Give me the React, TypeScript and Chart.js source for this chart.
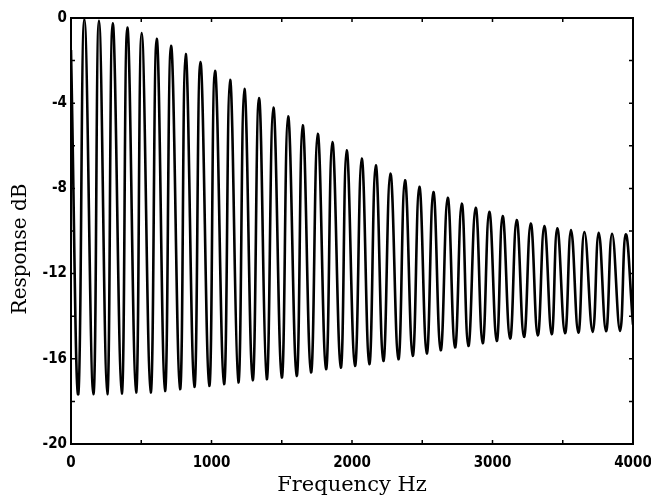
import React, { useEffect, useRef } from "react";
import { Chart, registerables } from "chart.js";

Chart.register(...registerables);

// Frequencies (Hz) and levels (dB)
const peakHz = [95, 199, 297, 401, 503, 610, 712, 816, 921, 1025, 1132, 1234, 1338, 1440, 1545, 1649, 1756, 1860, 1962, 2069, 2169, 2273, 2377, 2479, 2579, 2681, 2781, 2880, 2977, 3072, 3172, 3272, 3369, 3461, 3559, 3654, 3756, 3851, 3948];
const peakDb = [-0.06, -0.13, -0.25, -0.45, -0.71, -0.98, -1.31, -1.69, -2.07, -2.48, -2.9, -3.33, -3.76, -4.2, -4.62, -5.04, -5.44, -5.82, -6.21, -6.6, -6.92, -7.3, -7.62, -7.92, -8.17, -8.44, -8.71, -8.91, -9.1, -9.3, -9.49, -9.65, -9.77, -9.87, -9.96, -10.05, -10.08, -10.13, -10.16];
const troughHz = [52, 159, 258, 361, 463, 567, 669, 776, 878, 984, 1089, 1191, 1293, 1393, 1500, 1606, 1708, 1815, 1920, 2021, 2123, 2223, 2330, 2432, 2532, 2631, 2733, 2828, 2930, 3030, 3125, 3224, 3322, 3421, 3516, 3611, 3713, 3808, 3908];
const troughDb = [-17.66, -17.66, -17.66, -17.63, -17.58, -17.58, -17.51, -17.43, -17.32, -17.27, -17.19, -17.11, -17.0, -16.96, -16.88, -16.8, -16.64, -16.49, -16.41, -16.33, -16.25, -16.1, -16.02, -15.86, -15.75, -15.6, -15.47, -15.4, -15.27, -15.16, -15.05, -14.97, -14.9, -14.85, -14.8, -14.77, -14.74, -14.71, -14.69];
const edgeHz = [0, 4000];
const edgeDb = [-1.5, -14.4];

const xMajorLabels = [0, 1000, 2000, 3000, 4000];
const yMajorLabels = [0, -4, -8, -12, -16, -20];
const yTitle = "Response dB";
const xTitle = "Frequency Hz";

const TICK_FONT = { family: "'Liberation Sans Narrow', 'DejaVu Sans Condensed', 'Liberation Sans', Arial, sans-serif", size: 15, weight: "bold" as const };
const TITLE_FAMILY = "'DejaVu Serif', 'Liberation Serif', serif";

const framePlugin = {
  id: "frameTicks",
  afterDatasetsDraw(chart: any) {
    const { ctx, chartArea } = chart;
    const { left, right, top, bottom } = chartArea;
    const xs = chart.scales.x;
    const ys = chart.scales.y;
    ctx.save();
    ctx.strokeStyle = "#000";
    ctx.lineWidth = 2;
    ctx.strokeRect(left, top, right - left, bottom - top);
    ctx.lineWidth = 1.5;
    const len = 4;
    ctx.beginPath();
    xs.ticks.forEach((t: any) => {
      const px = xs.getPixelForValue(t.value);
      ctx.moveTo(px, bottom);
      ctx.lineTo(px, bottom - len);
      ctx.moveTo(px, top);
      ctx.lineTo(px, top + len);
    });
    ys.ticks.forEach((t: any) => {
      const py = ys.getPixelForValue(t.value);
      ctx.moveTo(left, py);
      ctx.lineTo(left + len, py);
      ctx.moveTo(right, py);
      ctx.lineTo(right - len, py);
    });
    ctx.stroke();
    // rotated y-axis title
    ctx.translate(21, (top + bottom) / 2 + 18);
    ctx.rotate(-Math.PI / 2);
    ctx.fillStyle = "#000";
    ctx.font = `20px ${TITLE_FAMILY}`;
    ctx.textAlign = "center";
    ctx.textBaseline = "middle";
    ctx.fillText(yTitle, 0, 0);
    ctx.restore();
  },
};

export default function App() {
  const ref = useRef<HTMLCanvasElement | null>(null);

  useEffect(() => {
    if (!ref.current) return;
    const pts: { x: number; y: number }[] = [{ x: edgeHz[0], y: edgeDb[0] }];
    for (let i = 0; i < peakHz.length; i++) {
      pts.push({ x: troughHz[i], y: troughDb[i] });
      pts.push({ x: peakHz[i], y: peakDb[i] });
    }
    pts.push({ x: edgeHz[1], y: edgeDb[1] });

    const chart = new Chart(ref.current, {
      type: "line",
      data: {
        datasets: [
          {
            data: pts,
            borderColor: "#000",
            borderWidth: 2.6,
            pointRadius: 0,
            tension: 0.45,
            fill: false,
          },
        ],
      },
      options: {
        animation: false,
        responsive: false,
        devicePixelRatio: 1,
        layout: { padding: { top: 18, right: 18, left: 0, bottom: 0 } },
        plugins: { legend: { display: false }, tooltip: { enabled: false } },
        scales: {
          x: {
            type: "linear",
            min: 0,
            max: 4000,
            grid: { display: false, drawTicks: false },
            border: { display: false },
            ticks: {
              stepSize: 500,
              autoSkip: false,
              maxRotation: 0,
              padding: 10,
              color: "#000",
              font: TICK_FONT,
              callback: (v: any) => (xMajorLabels.includes(Number(v)) ? String(v) : ""),
            },
            title: {
              display: true,
              text: xTitle,
              color: "#000",
              font: { family: TITLE_FAMILY, size: 21 },
              padding: { top: 0, bottom: 0 },
            },
            afterFit: (s: any) => {
              s.height = 54;
              s.paddingLeft = 0;
              s.paddingRight = 0;
            },
          },
          y: {
            type: "linear",
            min: -20,
            max: 0,
            grid: { display: false, drawTicks: false },
            border: { display: false },
            ticks: {
              stepSize: 2,
              autoSkip: false,
              padding: 4,
              color: "#000",
              font: TICK_FONT,
              callback: (v: any) => (yMajorLabels.includes(Number(v)) ? String(v) : ""),
            },
            afterFit: (s: any) => {
              s.width = 71;
              s.paddingTop = 0;
              s.paddingBottom = 0;
            },
          },
        },
      },
      plugins: [framePlugin],
    });
    return () => chart.destroy();
  }, []);

  return (
    <div style={{ position: "fixed", left: 0, top: 0, width: 651, height: 498, background: "#fff" }}>
      <canvas ref={ref} width={651} height={498} style={{ display: "block" }} />
    </div>
  );
}
